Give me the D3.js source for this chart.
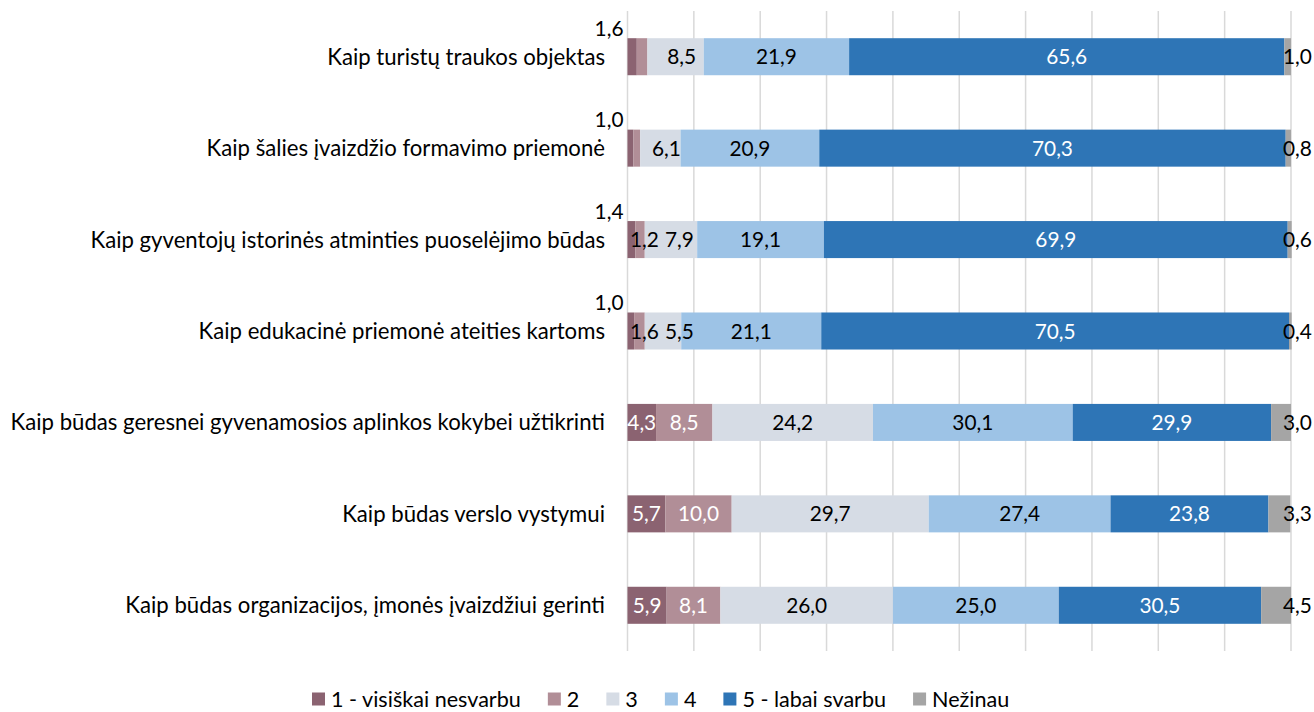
<!DOCTYPE html>
<html>
<head>
<meta charset="utf-8">
<script src="https://cdn.jsdelivr.net/npm/d3@7"></script>
<style>
  html, body { margin: 0; padding: 0; background: #fff; }
  svg { display: block; }
  text { font-family: Lato, "Liberation Sans", sans-serif; fill: #000; }
</style>
</head>
<body>
<svg id="chart" width="1314" height="712"></svg>
<script>
// ---- data ----
const categories = [
  "Kaip turistų traukos objektas",
  "Kaip šalies įvaizdžio formavimo priemonė",
  "Kaip gyventojų istorinės atminties puoselėjimo būdas",
  "Kaip edukacinė priemonė  ateities kartoms",
  "Kaip būdas geresnei gyvenamosios aplinkos kokybei užtikrinti",
  "Kaip būdas verslo vystymui",
  "Kaip būdas organizacijos, įmonės įvaizdžiui gerinti"
];
const seriesNames = ["1 - visiškai nesvarbu", "2", "3", "4", "5 - labai svarbu", "Nežinau"];
const s1 = [1.4, 0.9, 1.2, 1.0, 4.3, 5.7, 5.9];
const s2 = [1.6, 1.0, 1.4, 1.6, 8.5, 10.0, 8.1];
const s3 = [8.5, 6.1, 7.9, 5.5, 24.2, 29.7, 26.0];
const s4 = [21.9, 20.9, 19.1, 21.1, 30.1, 27.4, 25.0];
const s5 = [65.6, 70.3, 69.9, 70.5, 29.9, 23.8, 30.5];
const s6 = [1.0, 0.8, 0.6, 0.4, 3.0, 3.3, 4.5];
const xTicks = [0, 10, 20, 30, 40, 50, 60, 70, 80, 90, 100];
// how the labels of the two thin left segments are shown
const s1Label = ["hidden", "hidden", "inside", "above", "center", "center", "center"];
const s2Label = ["above", "above", "above", "inside", "center", "center", "center"];

// ---- style ----
const colors = ["#8B6371", "#B18E97", "#D6DCE5", "#9DC3E6", "#2E75B6", "#A5A5A5"];
const labelColors = ["#fff", "#fff", "#000", "#000", "#fff", "#000"];

const series = [s1, s2, s3, s4, s5, s6];
const rows = categories.map((c, i) => {
  const r = { cat: c };
  seriesNames.forEach((n, j) => r[n] = series[j][i]);
  return r;
});
const stacked = d3.stack().keys(seriesNames)(rows);

const svg = d3.select("#chart");
const plotLeft = 627.5, plotRight = 1291, plotTop = 11, plotBottom = 651;
const x = d3.scaleLinear().domain([0, 100]).range([plotLeft, plotRight]);
const y = d3.scaleBand().domain(categories).range([plotTop, plotBottom])
  .paddingInner(0.595).paddingOuter(0.2975);

const fmt = v => d3.format(".1f")(v).replace(".", ",");

// font fitting helper
function fitSize(str, targetWidth, base) {
  const t = svg.append("text").attr("font-size", base).text(str);
  const w = t.node().getComputedTextLength();
  t.remove();
  return base * targetWidth / w;
}
const catSize = fitSize(categories[4], 595, 20);
const valSize = fitSize("30,1", 41, 20);
const legSize = fitSize("1 - visiškai nesvarbu", 190, 20);

// gridlines
svg.append("g").selectAll("line").data(xTicks).join("line")
  .attr("x1", d => x(d)).attr("x2", d => x(d))
  .attr("y1", plotTop).attr("y2", plotBottom)
  .attr("stroke", "#d9d9d9").attr("stroke-width", 1.5);

// bars
const g = svg.append("g");
stacked.forEach((layer, j) => {
  g.append("g").selectAll("rect").data(layer).join("rect")
    .attr("x", d => x(d[0]))
    .attr("width", d => x(d[1]) - x(d[0]))
    .attr("y", d => y(d.data.cat))
    .attr("height", y.bandwidth())
    .attr("fill", colors[j]);
});

// category labels
svg.append("g").selectAll("text").data(categories).join("text")
  .attr("x", 605)
  .attr("y", d => y(d) + y.bandwidth() / 2)
  .attr("dy", "0.36em")
  .attr("text-anchor", "end")
  .attr("font-size", catSize)
  .text(d => d);

// value labels
const lab = svg.append("g").attr("font-size", valSize);
const insideEnd = {};
stacked.forEach((layer, j) => {
  layer.forEach((d, i) => {
    const v = series[j][i];
    const cy = y(d.data.cat) + y.bandwidth() / 2;
    let mode = "center";
    if (j === 0) mode = s1Label[i];
    if (j === 1) mode = s2Label[i];
    if (mode === "hidden") return;
    const t = lab.append("text").text(fmt(v)).attr("dy", "0.36em");
    const w = t.node().getComputedTextLength();
    if (mode === "above") {
      t.attr("x", plotLeft - 4).attr("y", y(d.data.cat) - 10)
        .attr("text-anchor", "end").style("fill", "#000");
    } else if (mode === "inside") {
      t.attr("x", plotLeft + 2.5).attr("y", cy)
        .attr("text-anchor", "start").style("fill", "#000");
      insideEnd[i] = plotLeft + 2.5 + w;
    } else if (j === 5) {
      t.attr("x", plotRight - 8).attr("y", cy)
        .attr("text-anchor", "start").style("fill", labelColors[j]);
    } else {
      let cx = (x(d[0]) + x(d[1])) / 2;
      if (j === 2 && s1Label[i] !== "center") {
        cx += 6;
        if (insideEnd[i] !== undefined) cx = Math.max(cx, insideEnd[i] + 6 + w / 2);
      }
      t.attr("x", cx).attr("y", cy)
        .attr("text-anchor", "middle").style("fill", labelColors[j]);
    }
  });
});

// legend
const leg = svg.append("g").attr("font-size", legSize);
let lx = 312;
const ly = 699;
seriesNames.forEach((n, j) => {
  leg.append("rect").attr("x", lx).attr("y", ly - 6.5).attr("width", 13).attr("height", 13)
    .attr("fill", colors[j]);
  const t = leg.append("text").attr("x", lx + 19).attr("y", ly).attr("dy", "0.35em").text(n);
  lx += 19 + t.node().getComputedTextLength() + 27;
});
</script>
</body>
</html>
